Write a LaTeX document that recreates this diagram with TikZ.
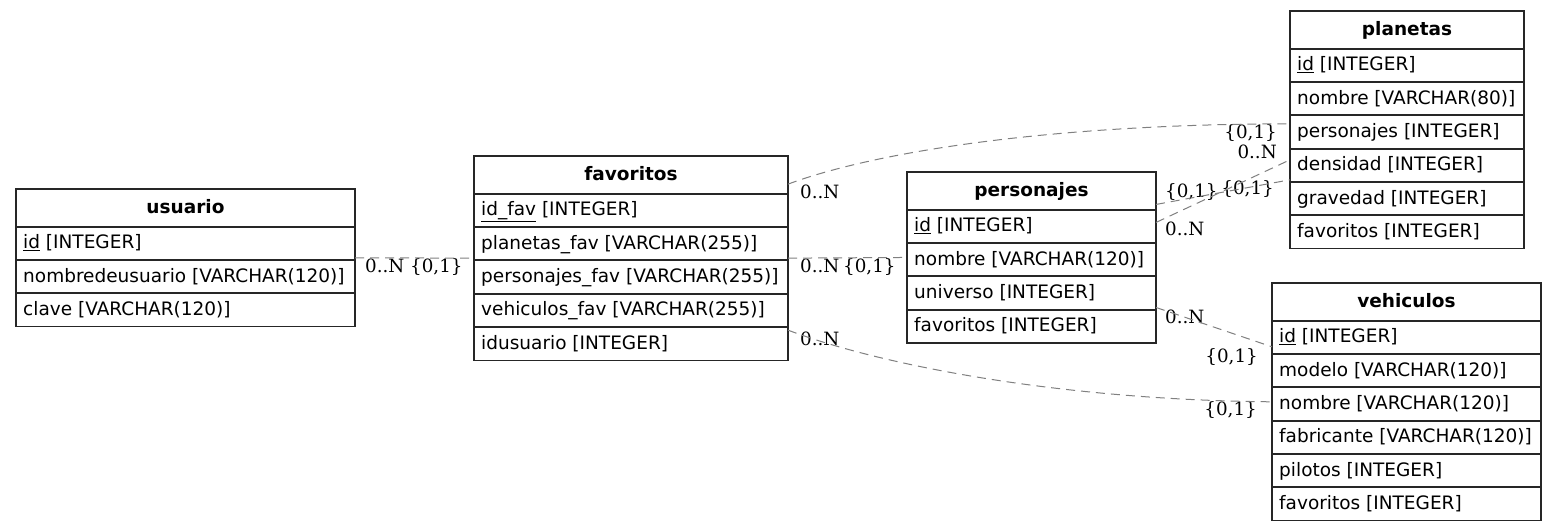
\documentclass[tikz,border=0pt]{standalone}
\usepackage{fontspec}
\setmainfont{DejaVu Serif}
\setsansfont{DejaVu Sans}
\tikzset{
  tbl/.style={draw=black!85, line width=1.3pt, fill=white, rectangle, inner sep=0pt, outer sep=0pt, anchor=north west},
  sepline/.style={draw=black!85, line width=1.3pt},
  hdr/.style={font=\sffamily\bfseries\fontsize{18.5pt}{22pt}\selectfont, anchor=base, inner sep=0pt},
  fld/.style={font=\sffamily\fontsize{18.5pt}{22pt}\selectfont, anchor=base west, inner sep=0pt},
  rel/.style={draw=black!50, line width=1pt, dash pattern=on 9pt off 6pt},
  card/.style={font=\rmfamily\fontsize{18.3pt}{22pt}\selectfont, inner sep=0pt},
}
\newcommand\ertable[6]{%
  \pgfmathsetmacro\ertabh{37.5+#5*33.35}%
  \node[tbl, minimum width=#4pt, minimum height=\ertabh pt] (#1) at (#2,#3) {};
  \node[hdr] (#1-title) at (#2+#4/2, #3+24.5) {#6};
}
\newcommand\errow[6]{%
  \pgfmathsetmacro\erliney{round(#3+4.15+#5*33.35)}%
  \draw[sepline] (#2,\erliney) -- ++(#4,0);
  \node[fld] (#1-f#5) at (#2+7,#3+26.5+#5*33.35) {#6};
}
\begin{document}
\begin{tikzpicture}[x=1pt,y=-1pt]
\useasboundingbox (0,0) rectangle (1557,531);
\fill[white] (0,0) rectangle (1557,531);

% usuario
\ertable{usuario}{16}{189}{339}{3}{usuario}
\errow{usuario}{16}{189}{339}{1}{\underline{id} [INTEGER]}
\errow{usuario}{16}{189}{339}{2}{nombredeusuario [VARCHAR(120)]}
\errow{usuario}{16}{189}{339}{3}{clave [VARCHAR(120)]}

% favoritos
\ertable{favoritos}{474}{156}{314}{5}{favoritos}
\errow{favoritos}{474}{156}{314}{1}{\underline{id\_fav} [INTEGER]}
\errow{favoritos}{474}{156}{314}{2}{planetas\_fav [VARCHAR(255)]}
\errow{favoritos}{474}{156}{314}{3}{personajes\_fav [VARCHAR(255)]}
\errow{favoritos}{474}{156}{314}{4}{vehiculos\_fav [VARCHAR(255)]}
\errow{favoritos}{474}{156}{314}{5}{idusuario [INTEGER]}

% personajes
\ertable{personajes}{907}{172}{249}{4}{personajes}
\errow{personajes}{907}{172}{249}{1}{\underline{id} [INTEGER]}
\errow{personajes}{907}{172}{249}{2}{nombre [VARCHAR(120)]}
\errow{personajes}{907}{172}{249}{3}{universo [INTEGER]}
\errow{personajes}{907}{172}{249}{4}{favoritos [INTEGER]}

% planetas
\ertable{planetas}{1290}{11}{234}{6}{planetas}
\errow{planetas}{1290}{11}{234}{1}{\underline{id} [INTEGER]}
\errow{planetas}{1290}{11}{234}{2}{nombre [VARCHAR(80)]}
\errow{planetas}{1290}{11}{234}{3}{personajes [INTEGER]}
\errow{planetas}{1290}{11}{234}{4}{densidad [INTEGER]}
\errow{planetas}{1290}{11}{234}{5}{gravedad [INTEGER]}
\errow{planetas}{1290}{11}{234}{6}{favoritos [INTEGER]}

% vehiculos
\ertable{vehiculos}{1272}{283}{269}{6}{vehiculos}
\errow{vehiculos}{1272}{283}{269}{1}{\underline{id} [INTEGER]}
\errow{vehiculos}{1272}{283}{269}{2}{modelo [VARCHAR(120)]}
\errow{vehiculos}{1272}{283}{269}{3}{nombre [VARCHAR(120)]}
\errow{vehiculos}{1272}{283}{269}{4}{fabricante [VARCHAR(120)]}
\errow{vehiculos}{1272}{283}{269}{5}{pilotos [INTEGER]}
\errow{vehiculos}{1272}{283}{269}{6}{favoritos [INTEGER]}

% cardinality labels
\node[card, anchor=base west] (c1) at (365,272) {0..N};
\node[card, anchor=base west] (c2) at (410,272) {\{0,1\}};
\node[card, anchor=base west] (c3) at (800,272) {0..N};
\node[card, anchor=base west] (c4) at (843,272) {\{0,1\}};
\node[card, anchor=base west] (c5) at (800,198) {0..N};
\node[card, anchor=base east] (c6) at (1277,138) {\{0,1\}};
\node[card, anchor=base west] (c7) at (1165,197) {\{0,1\}};
\node[card, anchor=base west] (c8) at (1165,235) {0..N};
\node[card, anchor=base east] (c9) at (1277,158) {0..N};
\node[card, anchor=base east] (c10) at (1274,194) {\{0,1\}};
\node[card, anchor=base west] (c11) at (1165,323) {0..N};
\node[card, anchor=base east] (c12) at (1258,362) {\{0,1\}};
\node[card, anchor=base west] (c13) at (800,345) {0..N};
\node[card, anchor=base east] (c14) at (1257,415) {\{0,1\}};

% relations
\draw[rel] (usuario.east) -- (favoritos.west);
\draw[rel] (favoritos.east) -- (personajes.west);
\draw[rel] ([yshift=74pt]favoritos.east) .. controls (880,150) and (1060,124) .. ([yshift=6pt]planetas.west);
\draw[rel] ([yshift=53pt]personajes.east) -- ([yshift=-50pt]planetas.west);
\draw[rel] ([yshift=35pt]personajes.east) -- ([yshift=-30pt]planetas.west);
\draw[rel] ([yshift=-50pt]personajes.east) -- ([yshift=55pt]vehiculos.west);
\draw[rel] ([yshift=-72pt]favoritos.east) .. controls (880,365) and (1060,400) .. (vehiculos.west);
\end{tikzpicture}
\end{document}
